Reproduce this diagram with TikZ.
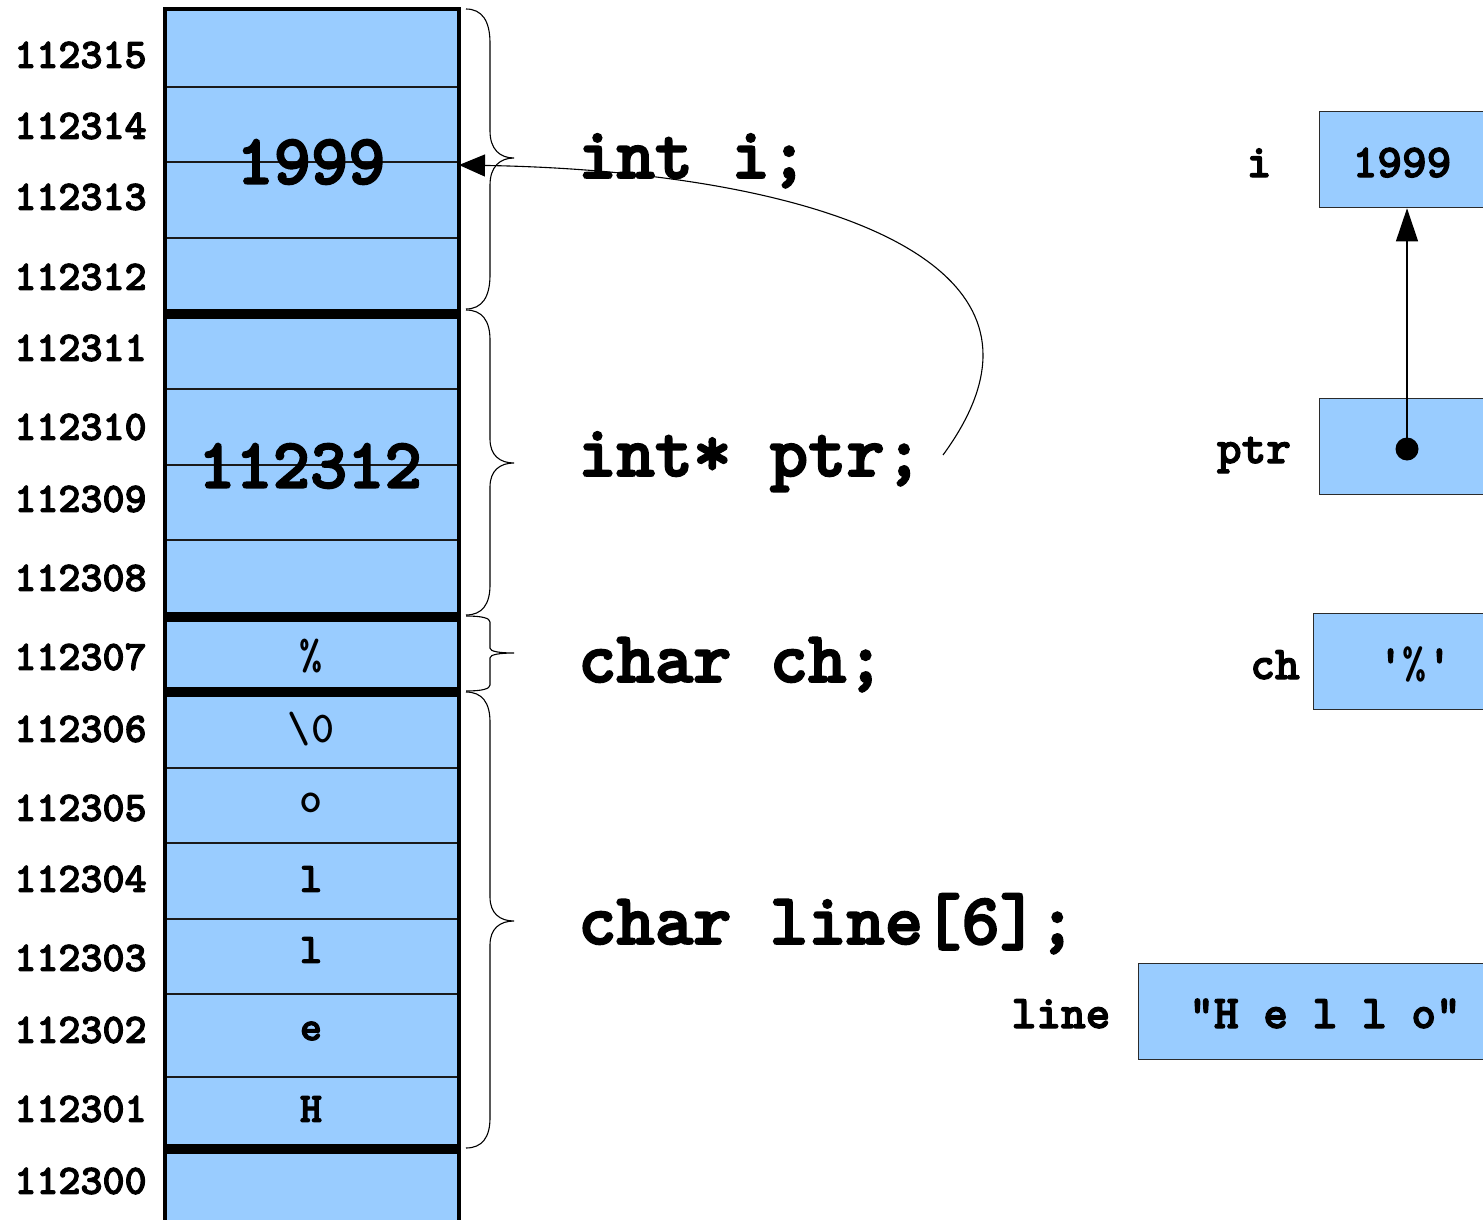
\documentclass[tikz,border=0pt]{standalone}
\usepackage{fontspec}
\newfontfamily\heavymono{lmmonolt10-bold.otf}[FakeBold=2.5]
\newfontfamily\midmono{lmmonolt10-bold.otf}
\usetikzlibrary{arrows.meta}
\definecolor{memblue}{HTML}{99CCFF}
\definecolor{edge}{HTML}{1A1A1A}
\definecolor{boxedge}{HTML}{2B2B2B}
\newcommand\fsz[1]{\fontsize{#1}{#1}\selectfont}

% one byte of memory: name, top edge, bottom edge
\newcommand\memcell[3]{\node[cell, minimum height={(#3-#2)*1pt}] (#1) at (312,{(#2+#3)/2}) {};}
% brace beside a variable: top, tip, bottom, curl size
\newcommand\membrace[4]{%
  \draw[groupbrace] (466,#1) .. controls (482,#1) and (490,{#1+#4*0.35}) .. (490,{#1+#4})
    -- (490,{#2-#4*0.8}) .. controls (490,{#2-#4*0.25}) and (500,#2) .. (514,#2)
    .. controls (500,#2) and (490,{#2+#4*0.25}) .. (490,{#2+#4*0.8})
    -- (490,{#3-#4}) .. controls (490,{#3-#4*0.35}) and (482,#3) .. (466,#3);}

\tikzset{
  cell/.style={draw=edge, fill=memblue, line width=1.5pt, minimum width=294pt, inner sep=0pt, outer sep=0pt},
  addr/.style={font=\heavymono\fsz{42}, inner sep=0pt},
  decl/.style={font=\heavymono\fsz{73}, inner sep=0pt, anchor=base west},
  bigval/.style={font=\heavymono\fsz{71}, inner sep=0pt},
  byteval/.style={font=\heavymono\fsz{42}, inner sep=0pt},
  plainval/.style={font=\midmono\fsz{44}, inner sep=0pt},
  varname/.style={font=\heavymono\fsz{47}, inner sep=0pt, anchor=base},
  varbox/.style={draw=boxedge, fill=memblue, line width=1.3pt, anchor=north west, minimum height=96pt, inner sep=0pt},
  groupbrace/.style={draw=black, line width=1.1pt},
  sep/.style={line width=10pt, draw=black},
  link/.style={draw=black, line width=1.1pt, -{Triangle[length=26pt,width=22pt]}},
}

\begin{document}
\begin{tikzpicture}[x=1pt, y=-1pt]
\useasboundingbox (0,0) rectangle (1483,1220);
\clip (0,0) rectangle (1483,1220);

% memory column
\memcell{a15}{9}{87}
\memcell{a14}{87}{162}
\memcell{a13}{162}{238}
\memcell{a12}{238}{314}
\memcell{a11}{314}{389}
\memcell{a10}{389}{465}
\memcell{a9}{465}{540}
\memcell{a8}{540}{617}
\memcell{a7}{617}{692}
\memcell{a6}{692}{768}
\memcell{a5}{768}{843}
\memcell{a4}{843}{919}
\memcell{a3}{919}{994}
\memcell{a2}{994}{1077}
\memcell{a1}{1077}{1149}
\memcell{a0}{1149}{1226}

% boundaries between variables
\foreach \c in {a12,a8,a7,a1}
  \draw[sep] (\c.south west) -- (\c.south east);
\draw[line width=4pt, line join=miter] (a0.south west) -- (a15.north west) -- (a15.north east) -- (a0.south east);

% addresses
\foreach \a/\y in {112315/55,112314/126,112313/197,112312/277,112311/348,112310/427,
                   112309/499,112308/578,112307/657,112306/729,112305/808,112304/879,
                   112303/958,112302/1030,112301/1109,112300/1181}
  \node[addr] (m\a) at (80.5,\y) {\a};

% contents
\node[bigval] (ival) at (311,162) {1999};
\node[bigval] (pval) at (310,466) {112312};
\node[plainval] (cval) at (311,656) {\%};
\node[plainval] (b5) at (311,729) {\textbackslash 0};
\node[plainval] (b4) at (311,803) {o};
\node[byteval] (b3) at (311,879) {l};
\node[byteval] (b2) at (311,950) {l};
\node[byteval] (b1) at (311,1031) {e};
\node[byteval] (b0) at (311,1109) {H};

% braces grouping the bytes of each variable
\membrace{9}{158}{309}{34}
\membrace{310}{463}{615}{30}
\membrace{616}{653}{691}{6}
\membrace{692}{921}{1148}{30}

% declarations
\node[decl] (di) at (578,178) {int i;};
\node[decl] (dp) at (578,476) {int* ptr;};
\node[decl] (dc) at (578,682) {char ch;};
\node[decl] (dl) at (578,944) {char line[6];};

% pointer in memory
\coordinate (ihit) at ([yshift=-3pt]a14.south east);
\coordinate (ptrtail) at (943,455);
\draw[link] (ptrtail) .. controls (965,425) and (983,390) .. (983,355)
  .. controls (983,230) and (750,170) .. (ihit);

% box view of the variables
\node[varbox, minimum width=166pt] (ibox) at (1319,111) {};
\node[varbox, minimum width=220pt] (pbox) at (1319,398) {};
\node[varbox, minimum width=230pt] (cbox) at (1313,613) {};
\node[varbox, minimum width=400pt] (lbox) at (1138,963) {};

\node[varname] (ni) at (1259,177) {i};
\node[varname] (np) at (1254,463) {ptr};
\node[varname] (nc) at (1275,679) {ch};
\node[varname] (nl) at (1061,1028) {line};

\node[varname] (vi) at (1402,177) {1999};
\node[varname] (vc) at (1415,678) {\symbol{39}{\midmono\fsz{46}\%}\symbol{39}};
\node[varname] (vl) at (1325,1028) {\symbol{34}H e l l o\symbol{34}};

\node[circle, fill=black, minimum size=23pt, inner sep=0pt] (pdot) at (1407,449) {};
\draw[draw=black, line width=1.1pt, -{Triangle[length=33pt,width=22pt]}] (pdot.center) -- (pdot |- ibox.south);
\end{tikzpicture}
\end{document}
